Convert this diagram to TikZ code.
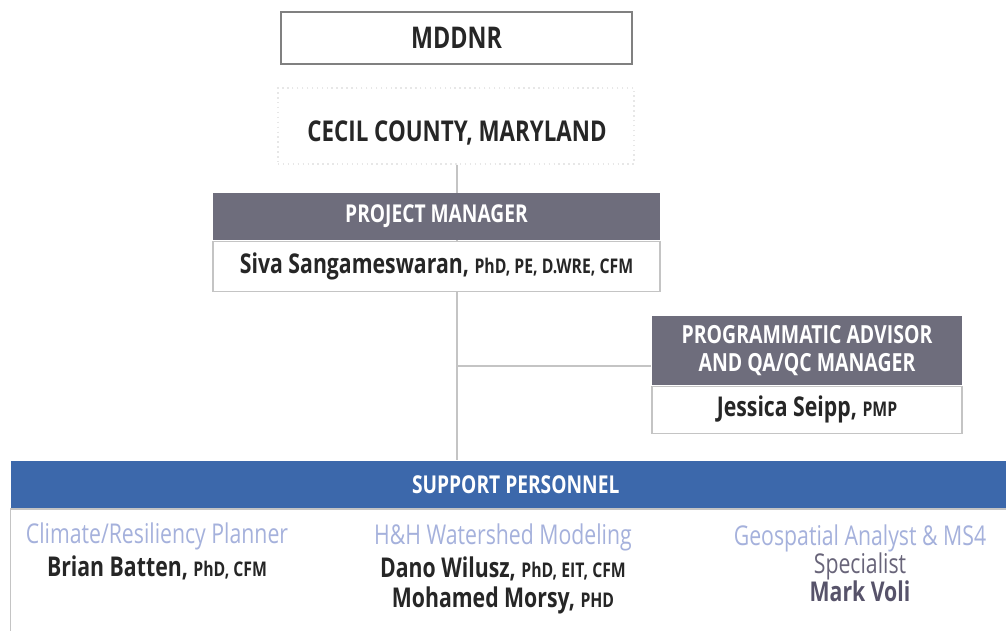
\documentclass[tikz,border=0pt]{standalone}
\usepackage{fontspec}
\setmainfont{Open Sans}[FakeStretch=0.78]
\usetikzlibrary{positioning,backgrounds}

\definecolor{headGray}{HTML}{6E6D7C}
\definecolor{headBlue}{HTML}{3C68AB}
\definecolor{roleBlue}{HTML}{A5B1DC}
\definecolor{lineGray}{HTML}{C4C4C4}
\definecolor{nameInk}{HTML}{262626}
\definecolor{voliInk}{HTML}{57536A}

\tikzset{
  box/.style={draw=lineGray, line width=0.8pt, fill=white, inner sep=0pt},
  head/.style={box, draw=none, text=white, font=\bfseries\fontsize{14}{16}\selectfont},
  body/.style={box, text=nameInk, font=\bfseries\fontsize{15.5}{18}\selectfont},
  link/.style={draw=lineGray, line width=0.9pt},
  role/.style={text=roleBlue, align=center, font=\fontsize{15.5}{18}\selectfont},
  who/.style={text=nameInk, align=center, font=\bfseries\fontsize{15.5}{17.2}\selectfont}
}
\newcommand{\cred}[1]{{\fontsize{11.5}{13}\selectfont #1}}

\begin{document}
\begin{tikzpicture}
  \useasboundingbox (0,0) rectangle (20.12,-12.6);

  % Draws the top two levels
  \node[box, draw=gray, minimum width=7.02cm, minimum height=1.04cm,
        font=\bfseries\fontsize{17}{19}\selectfont, text=nameInk]
        (mddnr) at (9.13,-0.76) {MDDNR};
  \node[box, draw=lineGray!40, dotted, minimum width=7.12cm, minimum height=1.52cm]
        (cecil) at (9.12,-2.52) {};
  \node[font=\bfseries\fontsize{16.3}{18}\selectfont, text=nameInk]
        (cecilText) at (9.14,-2.66) {CECIL COUNTY, MARYLAND};

  % Project manager
  \node[head, fill=headGray, minimum width=8.94cm, minimum height=0.94cm]
        (pmHead) at (8.73,-4.33) {PROJECT MANAGER};
  \node[body, minimum width=8.94cm, minimum height=1.0cm, below=0pt of pmHead]
        (pmBody) {Siva Sangameswaran, \cred{PhD, PE, D.WRE, CFM}};

  % Programmatic advisor
  \node[head, fill=headGray, minimum width=6.2cm, minimum height=1.38cm,
        align=center, font=\bfseries\fontsize{14.2}{16}\selectfont]
        (paHead) at (16.14,-7.01) {PROGRAMMATIC ADVISOR\\AND QA/QC MANAGER};
  \node[body, minimum width=6.2cm, minimum height=0.94cm, below=0pt of paHead]
        (paBody) {Jessica Seipp, \cred{PMP}};

  % Support personnel band, runs off the right edge
  \node[head, fill=headBlue, minimum width=20.1cm, minimum height=0.94cm,
        anchor=north west] (spHead) at (0.2,-9.2) {\hspace*{0.1cm}SUPPORT PERSONNEL};
  \node[box, minimum width=20.1cm, minimum height=2.6cm, below=0pt of spHead]
        (spBody) {};

  % Roles and names in the three columns
  \node[role] (roleA) at (3.14,-10.72) {Climate/Resiliency Planner};
  \node[who, below=-0.12cm of roleA] (nameA) {Brian Batten, \cred{PhD, CFM}};
  \node[role] (roleB) at (10.06,-10.74) {H\&H Watershed Modeling};
  \node[who, below=-0.12cm of roleB] (nameB)
        {Dano Wilusz, \cred{PhD, EIT, CFM}\\Mohamed Morsy, \cred{PHD}};
  \node[role] (roleC) at (17.2,-10.76) {Geospatial Analyst \& MS4};
  \node[below=-0.22cm of roleC, text=voliInk!90, font=\fontsize{15.5}{18}\selectfont]
        (specC) {Specialist};
  \node[who, text=voliInk, below=-0.24cm of specC] (nameC) {Mark Voli};

  % Draws the reporting lines behind the boxes
  \coordinate (branch) at (9.14,-7.32);
  \begin{scope}[on background layer]
    \draw[link] (cecil.south -| branch) -- (spHead.north -| branch);
    \draw[link] (branch) -- (branch -| paHead.west);
  \end{scope}
\end{tikzpicture}
\end{document}
